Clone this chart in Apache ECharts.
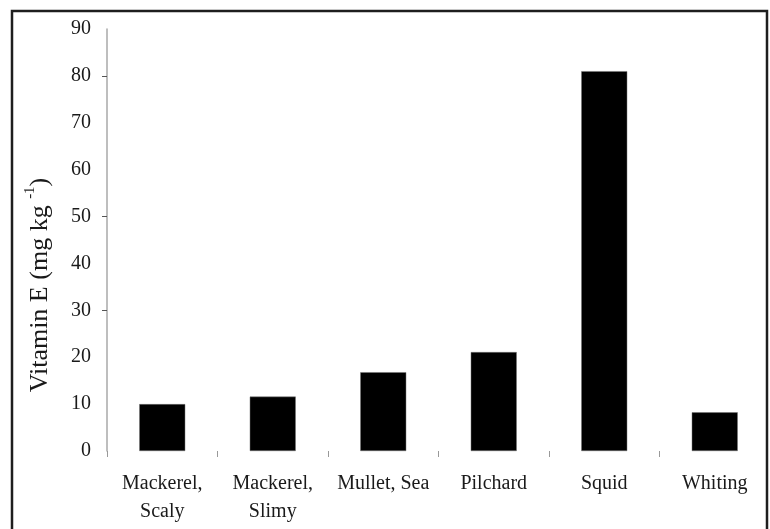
<!DOCTYPE html>
<html>
<head>
<meta charset="utf-8">
<script src="https://cdn.jsdelivr.net/npm/echarts@6/dist/echarts.min.js"></script>
<style>
html,body{margin:0;padding:0;background:#fff;}
#chart{width:770px;height:529px;}
</style>
</head>
<body>
<div id="chart"></div>
<script>
const categories = ['Mackerel,\nScaly', 'Mackerel,\nSlimy', 'Mullet, Sea', 'Pilchard', 'Squid', 'Whiting'];
const vitaminE = [10.0, 11.6, 16.8, 21.1, 81.0, 8.25];
const yTicks = [0, 10, 20, 30, 40, 50, 60, 70, 80, 90];
const yTickMarks = [30, 50, 80];

const FONT = "'Liberation Serif', 'Times New Roman', serif";
const chart = echarts.init(document.getElementById('chart'), null, {renderer: 'canvas'});
chart.setOption({
  animation: false,
  backgroundColor: '#fff',
  graphic: [{
    type: 'rect',
    shape: {x: 12, y: 11, width: 755, height: 540},
    style: {fill: 'none', stroke: '#1e1e1e', lineWidth: 2.5},
    silent: true
  }],
  grid: {left: 107, top: 29, width: 664, height: 422, containLabel: false},
  xAxis: {
    type: 'category',
    data: categories,
    axisLine: {show: false},
    axisTick: {show: true, interval: 0, length: 6, lineStyle: {color: '#999', width: 1}},
    axisLabel: {
      interval: 0,
      margin: 19,
      fontFamily: FONT,
      fontSize: 20,
      lineHeight: 28,
      color: '#1a1a1a'
    },
    splitLine: {show: false}
  },
  yAxis: [{
    type: 'value',
    min: yTicks[0],
    max: yTicks[yTicks.length - 1],
    interval: 10,
    name: '{a|Vitamin E (mg kg }{s|-1}{a|)}',
    nameLocation: 'middle',
    nameGap: 54,
    nameRotate: 90,
    nameTextStyle: {
      padding: [0, 90, 0, 0],
      rich: {
        a: {fontFamily: FONT, fontSize: 26, color: '#1a1a1a', lineHeight: 30, verticalAlign: 'bottom'},
        s: {fontFamily: FONT, fontSize: 15, color: '#1a1a1a', lineHeight: 30, verticalAlign: 'top', padding: [0, 0, 10, 0]}
      }
    },
    axisLine: {show: true, lineStyle: {color: '#a8a8a8', width: 1.5}},
    axisTick: {show: false},
    axisLabel: {
      margin: 16,
      fontFamily: FONT,
      fontSize: 20,
      color: '#1a1a1a'
    },
    splitLine: {show: false}
  }, {
    // overlay axis that only carries the few tick marks seen on the value axis
    type: 'category',
    position: 'left',
    offset: 0,
    boundaryGap: false,
    data: yTicks.map(String),
    axisLine: {show: false},
    axisLabel: {show: false},
    splitLine: {show: false},
    axisTick: {
      show: true,
      length: 5,
      interval: function (idx) { return yTickMarks.indexOf(yTicks[idx]) >= 0; },
      lineStyle: {color: '#555', width: 1}
    }
  }],
  series: [{
    type: 'bar',
    yAxisIndex: 0,
    data: vitaminE,
    barWidth: 46,
    itemStyle: {color: '#000', borderColor: '#777', borderWidth: 0.5}
  }]
});
</script>
</body>
</html>
